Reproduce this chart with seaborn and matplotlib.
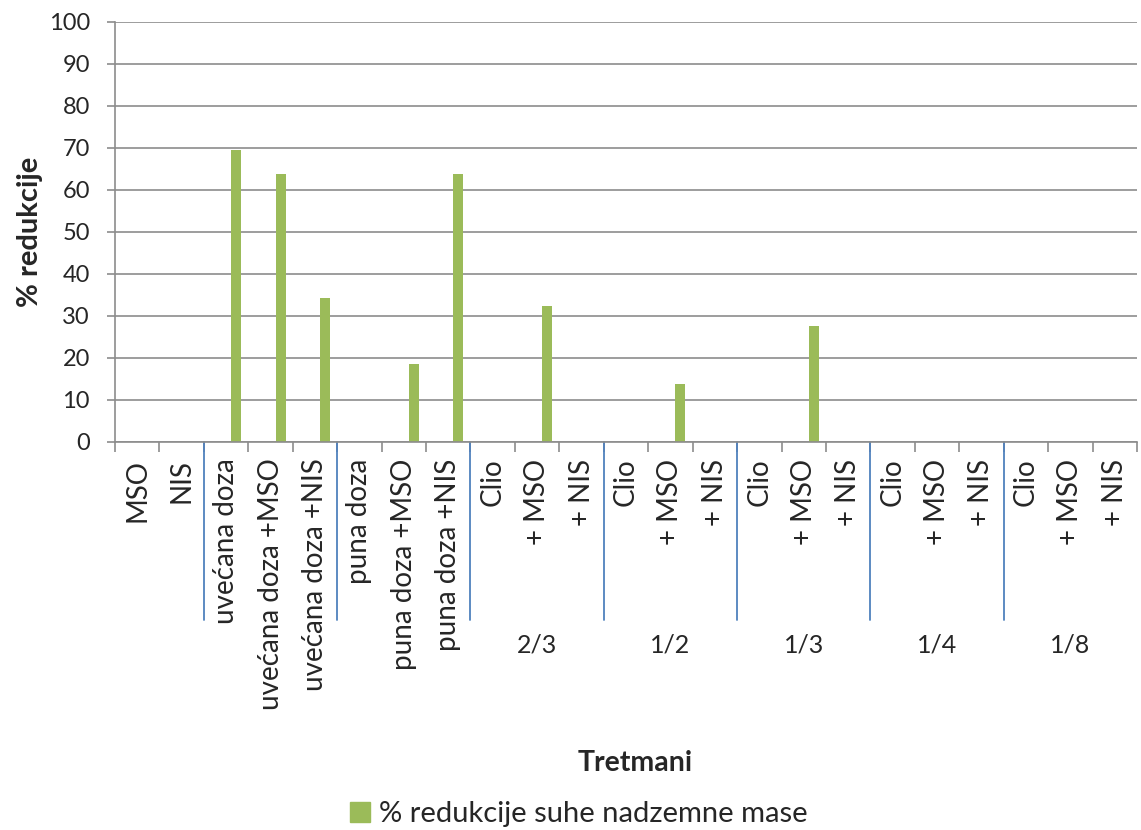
import numpy as np
import pandas as pd
import matplotlib.pyplot as plt
import seaborn as sns
from matplotlib.patches import Patch

tretmani = ["MSO", "NIS", "uvećana doza", "uvećana doza +MSO", "uvećana doza +NIS",
            "puna doza", "puna doza +MSO", "puna doza +NIS",
            "Clio", "+ MSO", "+ NIS", "Clio", "+ MSO", "+ NIS", "Clio", "+ MSO", "+ NIS",
            "Clio", "+ MSO", "+ NIS", "Clio", "+ MSO", "+ NIS"]
redukcija = [0, 0, 69.6, 63.7, 34.2, 0, 18.6, 63.8,
             0, 32.3, 0, 0, 13.9, 0, 0, 27.5, 0, 0, 0, 0, 0, 0, 0]
grupe = ["2/3", "1/2", "1/3", "1/4", "1/8"]
granice = [1.5, 4.5, 7.5, 10.5, 13.5, 16.5, 19.5]
serija = "% redukcije suhe nadzemne mase"

n = len(tretmani)
df = pd.DataFrame({
    "poz": list(range(n)) * 3,
    "vrijednost": [0] * n + [0] * n + redukcija,
    "serija": ["s1"] * n + ["s2"] * n + [serija] * n,
})

sns.set_style("white")
plt.rcParams["font.family"] = ["Lato", "DejaVu Sans"]

fig = plt.figure(figsize=(11.41, 8.30), dpi=100)
ax = fig.add_axes([0.1008, 0.4675, 0.8957, 0.506])

sns.barplot(data=df, x="poz", y="vrijednost", hue="serija",
            hue_order=["s1", "s2", serija],
            palette={"s1": "white", "s2": "white", serija: "#9BBB59"},
            width=0.675, errorbar=None, linewidth=0, saturation=1,
            legend=False, ax=ax)

ax.set_ylim(0, 100)
ax.set_xlim(-0.5, n - 0.5)
ax.set_yticks(np.arange(0, 101, 10))
ax.yaxis.grid(True, color="#8c8c8c", linewidth=1.2)
ax.set_axisbelow(True)
for s in ["top", "right"]:
    ax.spines[s].set_visible(False)
for s in ["left", "bottom"]:
    ax.spines[s].set_color("#8c8c8c")
    ax.spines[s].set_linewidth(1.2)

ax.set_xticks(np.arange(-0.5, n, 1), labels=[""] * (n + 1))
ax.set_xticks(range(n), labels=tretmani, minor=True)
ax.tick_params(axis="x", which="major", length=7, width=1.2, color="#8c8c8c", bottom=True)
ax.tick_params(axis="x", which="minor", length=0, pad=12, labelsize=20, labelrotation=90)
ax.tick_params(axis="y", length=6, width=1.2, color="#8c8c8c", left=True, pad=12, labelsize=17)

trans = ax.get_xaxis_transform()
for g in granice:
    ax.plot([g, g], [0, -0.424], color="#4F81BD", linewidth=1.3, transform=trans, clip_on=False)
for i, g in enumerate(grupe):
    ax.text(9 + 3 * i, -0.483, g, transform=trans, ha="center", va="center", fontsize=18)

ax.set_xlabel("")
ax.set_ylabel("% redukcije", fontsize=21, fontweight="bold", labelpad=4)
fig.text(0.5565, 0.081, "Tretmani", ha="center", va="center", fontsize=20.5, fontweight="bold")

fig.legend(handles=[Patch(color="#9BBB59", label=serija)], loc="center",
           bbox_to_anchor=(0.507, 0.019), frameon=False, fontsize=21,
           handlelength=0.7, handleheight=0.7, handletextpad=0.3)

fig.savefig("out.png", dpi=100)
